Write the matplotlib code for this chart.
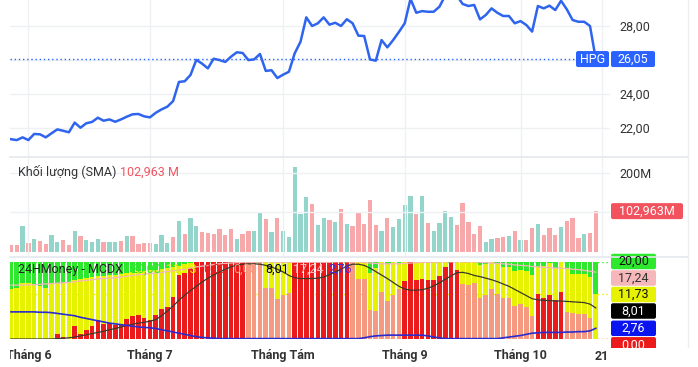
import matplotlib.pyplot as plt
from matplotlib.patches import FancyBboxPatch
from matplotlib.lines import Line2D
from matplotlib.transforms import Bbox, IdentityTransform, blended_transform_factory
import numpy as np

# ---- data (one entry per trading session) ----
price = [
    21.32, 21.27, 21.43, 21.27, 21.63, 21.61, 21.43, 21.67, 21.90, 21.82,
    21.73, 22.30, 22.00, 22.26, 22.34, 22.59, 22.41, 22.49, 22.35, 22.49,
    22.65, 22.79, 22.81, 22.67, 22.61, 22.88, 23.08, 23.24, 23.57, 24.70,
    24.74, 25.11, 26.00, 25.78, 25.50, 26.07, 25.99, 25.88, 26.19, 26.45,
    26.41, 25.99, 26.03, 26.35, 25.35, 25.39, 24.93, 25.13, 25.30, 26.39,
    27.07, 28.51, 28.00, 28.16, 28.51, 28.08, 28.19, 28.00, 28.40, 28.16,
    27.43, 27.41, 26.03, 25.95, 27.17, 26.74, 27.17, 27.65, 28.16, 29.60,
    28.78, 28.88, 28.84, 28.84, 29.14, 29.80, 30.00, 29.80, 29.30, 29.18,
    29.24, 28.39, 28.65, 29.04, 28.78, 28.59, 28.59, 28.16, 28.29, 28.06,
    27.67, 29.18, 29.04, 29.20, 28.94, 29.49, 28.98, 28.35, 28.25, 28.25,
    28.00, 26.05,
]

volume = [  # millions
    17.4, 17.4, 65.4, 23.2, 32.6, 27.5, 20.0, 42.7, 25.8, 30.0,
    17.4, 52.8, 40.2, 30.0, 25.8, 31.8, 24.2, 24.2, 24.2, 28.3,
    40.2, 40.2, 19.2, 21.7, 21.7, 19.2, 42.7, 21.7, 37.6, 78.0,
    44.4, 86.4, 65.4, 51.0, 47.5, 46.0, 57.0, 42.7, 57.0, 32.6,
    44.4, 52.8, 52.8, 100.0, 83.0, 51.0, 86.4, 52.8, 38.4, 213.6,
    95.7, 138.0, 121.0, 68.0, 84.8, 80.6, 76.3, 108.0, 69.7, 65.4,
    100.0, 70.5, 131.0, 68.0, 52.8, 86.4, 63.6, 82.3, 119.0, 141.5,
    95.7, 141.5, 74.2, 53.2, 73.0, 104.0, 89.0, 68.0, 124.0, 76.2,
    45.0, 66.0, 25.0, 31.8, 35.9, 38.4, 39.3, 54.0, 30.0, 30.0,
    59.6, 71.2, 42.7, 60.3, 42.7, 62.0, 79.0, 85.0, 36.0, 45.0,
    47.0, 102.963,
]

volume_up = [
    0, 0, 1, 0, 1, 0, 0, 1, 1, 0,
    0, 1, 0, 1, 1, 1, 0, 1, 1, 0,
    1, 0, 0, 0, 0, 1, 1, 1, 0, 1,
    0, 1, 1, 0, 0, 0, 0, 0, 0, 1,
    0, 0, 1, 1, 0, 1, 0, 1, 1, 1,
    1, 1, 0, 1, 1, 0, 1, 0, 1, 0,
    0, 0, 0, 0, 1, 0, 1, 1, 1, 1,
    0, 1, 0, 1, 1, 1, 1, 0, 0, 0,
    0, 0, 1, 1, 0, 0, 1, 0, 1, 0,
    0, 1, 0, 0, 0, 1, 0, 0, 0, 1,
    0, 0,
]

# MCDX: banker (red), banker + hot money (yellow top), rest retail (green)
banker = [
    0, 0, 0, 0, 0, 0, 0, 0, 1.2, 0.6,
    0, 3.4, 1.4, 2.4, 3.4, 4.9, 4.0, 4.1, 3.5, 4.0,
    5.2, 5.9, 6.2, 5.3, 4.8, 6.3, 7.7, 8.3, 10.8, 16.5,
    17.0, 18.2, 20, 20, 20, 20, 20, 20, 20, 20,
    20, 20, 20, 20, 13.1, 13.2, 10.2, 11.3, 11.9, 20,
    20, 20, 20, 20, 20, 20, 20, 20, 20, 20,
    15.4, 15.4, 7.5, 7.3, 12.1, 9.8, 11.4, 12.9, 15.0, 20,
    15.2, 15.6, 15.2, 15.2, 16.3, 18.7, 20, 17.9, 14.2, 14.0,
    14.5, 10.6, 11.3, 12.8, 11.6, 10.5, 10.5, 8.5, 9.0, 8.2,
    6.0, 11.5, 10.7, 11.3, 10.1, 12.2, 7.0, 6.6, 6.5, 6.4,
    5.3, 0.0,
]

banker_rising = [1] * 41 + [0] * 8 + [1] * 10 + [0] * 9 + [1] * 10 + [0] * 13 + [1] * 5 + [0] * 6

hot_top = [
    12.8, 13.1, 14.4, 14.4, 13.9, 13.7, 13.1, 14.1, 14.5, 14.4,
    14.8, 15.2, 15.4, 15.8, 16.0, 16.2, 16.3, 16.5, 16.6, 16.8,
    17.0, 17.4, 17.5, 17.6, 17.7, 17.8, 18.0, 18.2, 18.5, 18.9,
    19.3, 19.6, 20, 20, 20, 20, 20, 20, 20, 20,
    20, 20, 20, 20, 20, 20, 20, 20, 20, 20,
    20, 20, 20, 20, 20, 20, 20, 20, 20, 20,
    20, 20, 17.0, 18.4, 20, 19.3, 20, 19.7, 20, 20,
    20, 20, 20, 20, 20, 20, 20, 20, 20, 20,
    20, 19.0, 19.3, 20, 19.6, 18.7, 18.5, 17.6, 17.9, 17.5,
    16.5, 18.7, 18.8, 19.5, 18.4, 20, 18.0, 16.8, 16.8, 16.9,
    16.0, 11.73,
]

pink_line = [
    13.9, 13.9, 13.9, 14.0, 14.0, 14.1, 14.2, 14.3, 14.4, 14.5,
    14.6, 14.8, 15.0, 15.1, 15.3, 15.5, 15.6, 15.7, 15.8, 16.0,
    16.2, 16.4, 16.6, 16.7, 16.9, 17.0, 17.2, 17.4, 17.6, 17.8,
    18.0, 18.3, 18.6, 18.8, 19.0, 19.2, 19.4, 19.5, 19.6, 19.7,
    19.8, 19.9, 19.9, 19.9, 19.9, 19.9, 19.8, 19.8, 19.8, 19.8,
    19.8, 19.8, 19.8, 19.8, 19.8, 19.8, 19.9, 19.9, 19.9, 19.9,
    19.9, 19.7, 19.6, 19.5, 19.4, 19.4, 19.4, 19.4, 19.5, 19.6,
    19.7, 19.8, 19.8, 19.8, 19.9, 19.9, 19.9, 19.9, 19.9, 19.9,
    19.9, 19.8, 19.7, 19.6, 19.5, 19.4, 19.3, 19.1, 19.0, 18.9,
    18.7, 18.6, 18.5, 18.4, 18.3, 18.3, 18.2, 18.0, 17.9, 17.7,
    17.5, 17.24,
]

black_line = [
    0.0, 0.0, 0.0, 0.0, 0.0, 0.0, 0.0, 0.0, 0.1, 0.2,
    0.3, 0.5, 0.8, 1.1, 1.4, 1.7, 2.0, 2.4, 2.7, 3.1,
    3.5, 3.8, 4.1, 4.3, 4.6, 5.0, 6.0, 7.2, 8.5, 10.0,
    11.3, 12.5, 13.6, 14.7, 15.7, 16.5, 17.3, 18.0, 18.6, 19.1,
    19.3, 19.4, 19.4, 19.3, 19.0, 18.6, 18.0, 17.3, 16.4, 15.8,
    15.6, 15.6, 15.6, 15.7, 16.0, 16.6, 17.3, 18.0, 18.8, 19.3,
    19.3, 19.0, 18.3, 17.4, 16.5, 15.6, 14.6, 13.6, 12.9, 12.6,
    12.6, 12.7, 13.1, 13.7, 14.5, 15.4, 16.3, 17.1, 17.2, 16.9,
    16.4, 16.1, 15.7, 15.3, 14.8, 14.2, 13.6, 12.8, 12.0, 11.2,
    10.4, 10.1, 10.0, 9.9, 9.8, 9.8, 9.7, 9.6, 9.5, 9.4,
    9.0, 8.01,
]

blue_line = [
    7.0, 7.0, 7.0, 7.0, 7.0, 6.9, 6.9, 6.8, 6.6, 6.4,
    6.2, 6.0, 5.6, 5.3, 5.0, 4.7, 4.4, 4.1, 3.9, 3.7,
    3.5, 3.3, 3.1, 3.0, 2.9, 2.7, 2.4, 2.1, 1.8, 1.5,
    1.2, 0.9, 0.6, 0.4, 0.3, 0.2, 0.1, 0.1, 0.1, 0.1,
    0.1, 0.1, 0.1, 0.1, 0.1, 0.1, 0.1, 0.1, 0.1, 0.1,
    0.1, 0.1, 0.1, 0.1, 0.1, 0.1, 0.1, 0.1, 0.1, 0.1,
    0.1, 0.3, 0.6, 0.8, 0.9, 1.0, 1.0, 1.0, 1.0, 1.0,
    1.0, 1.0, 0.8, 0.5, 0.3, 0.1, 0.1, 0.1, 0.1, 0.1,
    0.1, 0.1, 0.1, 0.1, 0.1, 0.3, 0.5, 0.7, 0.9, 1.2,
    1.5, 1.6, 1.7, 1.7, 1.7, 1.7, 1.8, 1.8, 1.9, 1.9,
    2.1, 2.76,
]

month_labels = ['Tháng 6', 'Tháng 7', 'Tháng Tám', 'Tháng 9', 'Tháng 10', '21']
month_starts = [3, 24, 47, 68, 88, 102]   # session index of each label

# ---- colours ----
BLUE = '#2962ff'
LINE = '#2f64ef'
UP, DOWN = '#93d5ca', '#f6a8ab'
GREEN, YELLOW, RED, SALMON = '#2ee82e', '#e6f200', '#ec1b1b', '#f59a80'
PINK, DARK, INDIGO = '#f5b7ba', '#3a3a2a', '#2b2bd0'
GRID = '#eef0f4'
TXT = '#333333'

W, H = 698, 367
plt.rcParams['font.family'] = ['Roboto', 'DejaVu Sans']
fig = plt.figure(figsize=(W / 100, H / 100), dpi=100)

X0, X1 = 10, 610         # pane edges, px
FIRST, STEP = 11, 5.79   # px of first session, px per session
n = np.arange(len(price))


def pane(top, bottom):
    ax = fig.add_axes([X0 / W, 1 - bottom / H, (X1 - X0) / W, (bottom - top) / H])
    ax.set_xlim((X0 - FIRST) / STEP, (X1 - FIRST) / STEP)
    for s in ax.spines.values():
        s.set_visible(False)
    ax.set_xticks(month_starts)
    ax.tick_params(length=0, labelbottom=False, labelleft=False)
    ax.set_facecolor('none')
    return ax


def fmt(v, d=2):
    return f'{v:.{d}f}'.replace('.', ',')


def tag(yc, x0, x1, text, fc, tc, h=16, clip=None):
    p = FancyBboxPatch((x0, H - yc - h / 2), x1 - x0, h, boxstyle='round,pad=0,rounding_size=2',
                       transform=IdentityTransform(), fc=fc, ec='none')
    fig.add_artist(p)
    t = fig.text((x0 + x1) / 2 / W, 1 - yc / H, text, color=tc, fontsize=9,
                 ha='center', va='center')
    if clip is not None:
        p.set_clip_box(clip)
        t.set_clip_box(clip)


def ypx(ax, v):
    return H - ax.transData.transform((0, v))[1]


# ---- price pane ----
ax1 = pane(0, 157)
ax1.set_ylim(28 - 131 / 16.95, 28 + 26 / 16.95)
ax1.grid(True, color=GRID, lw=1)
ax1.set_yticks([22, 24, 26, 28])
ax1.yaxis.tick_right()
ax1.set_yticklabels([fmt(v) if v != 26 else '' for v in [22, 24, 26, 28]])
ax1.tick_params(axis='y', labelright=True, pad=6.5, labelsize=9, labelcolor=TXT)
ax1.axhline(price[-1], color=BLUE, lw=1, ls=(0, (1, 2)))
ax1.plot(n, price, color=LINE, lw=1.8, solid_joinstyle='round')

# ---- volume pane ----
ax2 = pane(158, 256)
ax2.set_ylim(-(256 - 251.9) / 0.396, (251.9 - 158) / 0.396)
ax2.grid(True, color=GRID, lw=1)
ax2.set_yticks([100, 200])
ax2.yaxis.tick_right()
ax2.set_yticklabels(['', '200M'])
ax2.tick_params(axis='y', labelright=True, pad=6.5, labelsize=9, labelcolor=TXT)
ax2.bar(n, volume, width=0.74, color=[UP if u else DOWN for u in volume_up], lw=0)

# ---- MCDX pane ----
ax3 = pane(261.5, 339)
ax3.set_ylim(0, 20)
ax3.set_yticks([])
for v, c in [(20, GREEN), (hot_top[-1], YELLOW), (banker[-1], RED)]:
    ax3.axhline(v, color=c, lw=1, ls=(0, (1, 2)), zorder=0)
ax3.bar(n, [20] * len(n), width=0.8, color=GREEN, lw=0)
ax3.bar(n, hot_top, width=0.8, color=YELLOW, lw=0)
ax3.bar(n, banker, width=0.8, color=[RED if r else SALMON for r in banker_rising], lw=0)
ax3.plot(n, pink_line, color=PINK, lw=0.9)
ax3.plot(n, black_line, color=DARK, lw=0.9)
ax3.plot(n, blue_line, color=INDIGO, lw=1.2)

# time scale labels, clipped to the pane width
clip_time = Bbox([[X0, 0], [X1, 40]])
tr = blended_transform_factory(ax3.transData, fig.transFigure)
for pos, lab in zip(month_starts, month_labels):
    t = ax3.text(pos, 1 - 356 / H, lab, transform=tr, ha='center', va='center',
                 fontsize=9, fontweight='bold', color=TXT, clip_on=True)
    t.set_clip_box(clip_time)

# ---- pane separators and right border ----
for y in (157, 257):
    fig.add_artist(Line2D([X0 / W, 688 / W], [1 - y / H] * 2, transform=fig.transFigure,
                          color='#e4e7ec', lw=1.2))
fig.add_artist(Line2D([688 / W] * 2, [1 - 347 / H, 1], transform=fig.transFigure,
                      color='#eceef2', lw=1))

# ---- legends ----
fig.text(18 / W, 1 - 172 / H, 'Khối lượng (SMA)', fontsize=9, color=TXT, va='center')
fig.text(120 / W, 1 - 172 / H, fmt(volume[-1], 3) + ' M', fontsize=9, color='#f05560', va='center')
fig.text(18 / W, 1 - 269 / H, '24HMoney - MCDX', fontsize=9, color='#222222', va='center')
legend_vals = [(20.0, GREEN), (hot_top[-1], YELLOW), (banker[-1], RED), (banker[-1], SALMON),
               (black_line[-1], 'black'), (pink_line[-1], PINK), (blue_line[-1], '#4b2bd0')]
for xl, (v, c) in zip([130, 166, 203, 233, 265, 293, 328], legend_vals):
    fig.text(xl / W, 1 - 269 / H, fmt(v), fontsize=9, color=c, va='center')

# ---- last value tags ----
tag(ypx(ax1, price[-1]), 576, 609, 'HPG', BLUE, 'white')
tag(ypx(ax1, price[-1]), 611, 655, fmt(price[-1]), BLUE, 'white')
tag(ypx(ax2, volume[-1]), 611, 683, fmt(volume[-1], 3) + 'M', '#f2525e', 'white')

mcdx_tags = [(20.0, GREEN, '#111111'), (pink_line[-1], PINK, '#333333'),
             (hot_top[-1], YELLOW, '#111111'), (black_line[-1], 'black', 'white'),
             (blue_line[-1], '#0a14ee', 'white'), (banker[-1], RED, 'white')]
clip_tags = Bbox([[0, H - 348], [W, H]])
prev = -100
for v, fc, tc in mcdx_tags:
    yc = max(ypx(ax3, v), prev + 16.5)
    tag(yc, 611, 656, fmt(v), fc, tc, h=15.5, clip=clip_tags)
    prev = yc

fig.savefig('out.png', dpi=100, facecolor='white')
